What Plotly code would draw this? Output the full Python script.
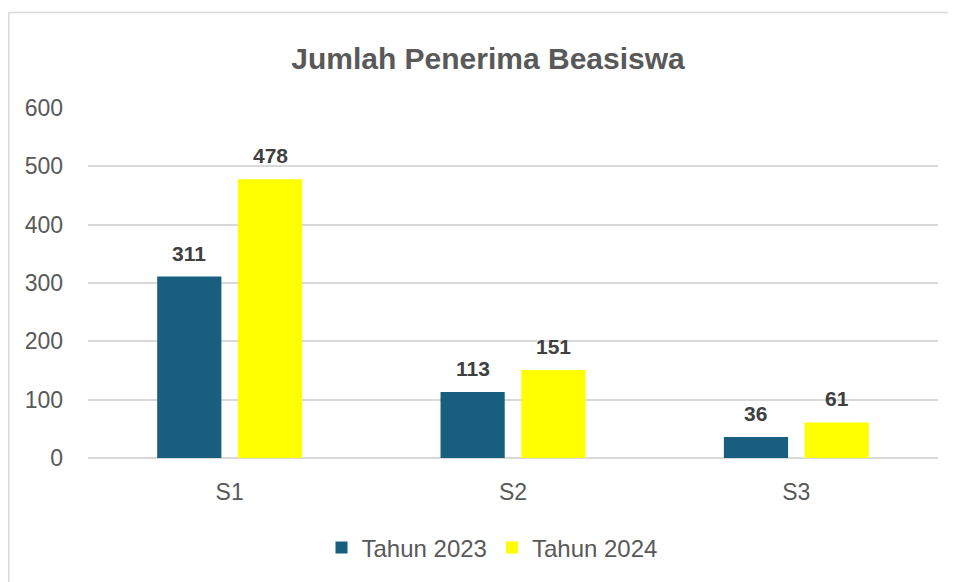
import plotly.graph_objects as go

categories = ["S1", "S2", "S3"]
series_names = ["Tahun 2023", "Tahun 2024"]
values_2023 = [311, 113, 36]
values_2024 = [478, 151, 61]
colors = ["#175E7F", "#FFFF00"]
y_ticks = [0, 100, 200, 300, 400, 500, 600]

FONT = "Liberation Sans Narrow, Arial Narrow, Liberation Sans, Arial, sans-serif"

# page body has an 8px margin, so figure coordinates = screen - 8
W, H = 948, 574
L, R, T, B = 80, 18, 100, 124
pw = W - L - R
ph = H - T - B

def px_x(p):
    return (p - L) / pw

def px_y(p):
    return (H - B - p) / ph

fig = go.Figure()
for name, vals, col in zip(series_names, [values_2023, values_2024], colors):
    fig.add_trace(go.Bar(
        x=categories, y=vals, name=name,
        marker=dict(color=col, line=dict(width=0)),
    ))

# data labels
slot_px = pw / 3 * (1 - 0.43) / 2
for i, vals in enumerate([values_2023, values_2024]):
    off = (i - 0.5) * slot_px
    for c, v in zip(categories, vals):
        fig.add_annotation(
            x=c, y=v, xref="x", yref="y", text=f"<b>{v}</b>",
            showarrow=False, xshift=off, yshift=10, yanchor="bottom",
            font=dict(family=FONT, size=21, color="#404040"),
        )

# chart border (top and left edges visible)
border = "#D9D9D9"
fig.add_shape(type="line", xref="paper", yref="paper",
              x0=px_x(0.75), x1=px_x(W + 2), y0=px_y(4.5), y1=px_y(4.5),
              line=dict(color=border, width=1.5))
fig.add_shape(type="line", xref="paper", yref="paper",
              x0=px_x(0.75), x1=px_x(0.75), y0=px_y(4.5), y1=px_y(H + 2),
              line=dict(color=border, width=1.5))

fig.update_layout(
    width=W, height=H,
    margin=dict(l=L, r=R, t=T, b=B),
    paper_bgcolor="white", plot_bgcolor="white",
    barmode="group", bargap=0.43, bargroupgap=0.205,
    title=dict(text="<b>Jumlah Penerima Beasiswa</b>", x=px_x(480), xref="paper",
               xanchor="center", y=1 - 50 / H, yanchor="middle",
               font=dict(family=FONT, size=30, color="#595959")),
    font=dict(family=FONT, color="#595959"),
    legend=dict(orientation="h", x=px_x(484), xanchor="center", xref="paper",
                y=px_y(540), yanchor="middle", yref="paper",
                font=dict(family=FONT, size=24, color="#595959"),
                itemwidth=30, traceorder="normal"),
    xaxis=dict(showgrid=False, showline=False, ticks="",
               tickfont=dict(family=FONT, size=23, color="#595959"),
               ticklabelstandoff=18),
    yaxis=dict(range=[0, 600], tickvals=y_ticks, showgrid=True,
               gridcolor="#D9D9D9", gridwidth=1.5, zeroline=True,
               zerolinecolor="#D9D9D9", zerolinewidth=1.5, showline=False,
               tickfont=dict(family=FONT, size=23, color="#595959"),
               ticklabelstandoff=24),
)

fig.write_html("out.html")
